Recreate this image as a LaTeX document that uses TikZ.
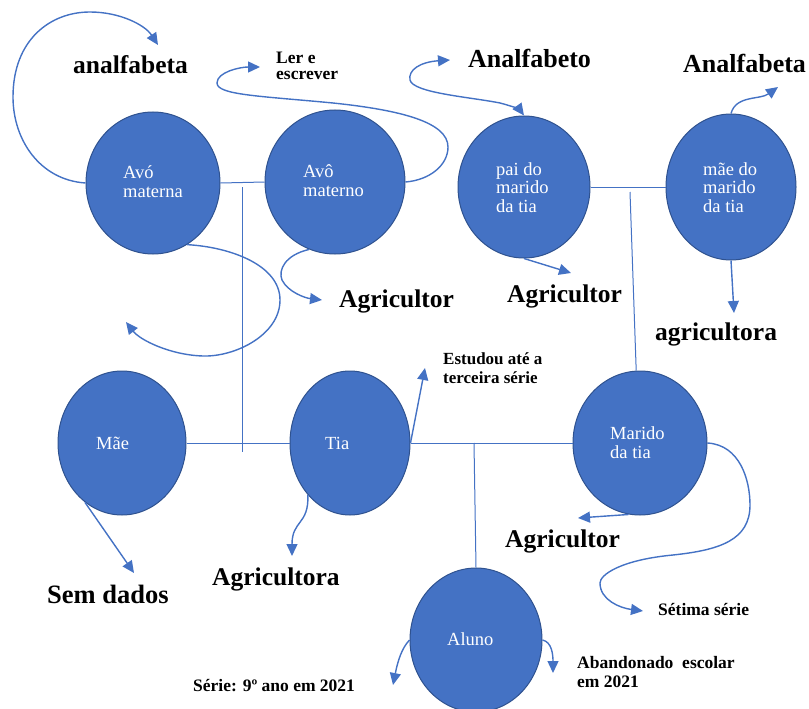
\documentclass[tikz,border=0pt]{standalone}
\usepackage{fontspec}
\setmainfont{Liberation Serif}
\newfontfamily\tnr{Liberation Serif}
\usetikzlibrary{shapes.geometric,arrows.meta}
\definecolor{cblue}{HTML}{4472C4}
\definecolor{cdark}{HTML}{2F528F}
\tikzset{
 person/.style={ellipse, fill=cblue, draw=cdark, line width=1pt, inner sep=0pt},
 ptext/.style={anchor=base west, inner sep=0pt, align=left, text=white, font=\tnr\fontsize{18.5}{18.3}\selectfont},
 big/.style={anchor=base west, inner sep=0pt, font=\tnr\fontsize{25.5}{30}\selectfont\bfseries},
 small/.style={anchor=base west, inner sep=0pt, align=left, font=\tnr\fontsize{17.5}{18.5}\selectfont\bfseries},
 tree/.style={draw=cblue, line width=1pt},
 arr/.style={draw=cblue, line width=1.4pt, -{Triangle[length=12pt,width=11pt]}},
 darr/.style={draw=cblue, line width=1.4pt, {Triangle[length=12pt,width=11pt]}-{Triangle[length=12pt,width=11pt]}},
}
\begin{document}
\begin{tikzpicture}[x=1pt,y=-1pt]
\useasboundingbox (0,0) rectangle (809,709);
% persons
\node[person, minimum width=134pt, minimum height=142pt] (am) at (153,183) {};
\node[person, minimum width=140pt, minimum height=144pt] (amo) at (335,182) {};
\node[person, minimum width=132pt, minimum height=142pt] (pai) at (524,187) {};
\node[person, minimum width=130pt, minimum height=146pt] (mae2) at (731,187) {};
\node[person, minimum width=128pt, minimum height=144pt] (mae) at (122,443) {};
\node[person, minimum width=120pt, minimum height=144pt] (tia) at (350,443) {};
\node[person, minimum width=134pt, minimum height=144pt] (mar) at (640,443) {};
\node[person, minimum width=132pt, minimum height=144pt] (alu) at (476,640) {};
% person texts (anchor = baseline of last line)
\node[ptext] (tam) at (123,197) {Avó\\materna};
\node[ptext] (tamo) at (303,196) {Avô\\materno};
\node[ptext] (tpai) at (496,212) {pai do\\marido\\da tia};
\node[ptext] (tmae2) at (703,212) {mãe do\\marido\\da tia};
\node[ptext] (tmae) at (96,449) {Mãe};
\node[ptext] (ttia) at (325,449) {Tia};
\node[ptext] (tmar) at (610,458) {Marido\\da tia};
\node[ptext] (talu) at (447,645) {Aluno};
% labels
\node[big] (l1) at (73,74) {analfabeta};
\node[small, font=\tnr\fontsize{17.5}{17}\selectfont\bfseries] (l2) at (276,80) {Ler e\\escrever};
\node[big, font=\tnr\fontsize{26}{30}\selectfont\bfseries] (l3) at (468,68) {Analfabeto};
\node[big, font=\tnr\fontsize{26}{30}\selectfont\bfseries] (l4) at (683,73) {Analfabeta};
\node[big] (l5) at (339,307) {Agricultor};
\node[big] (l6) at (507,302) {Agricultor};
\node[big] (l7) at (655,340) {agricultora};
\node[small, font=\tnr\fontsize{17}{19}\selectfont\bfseries] (l8) at (443,383) {Estudou até a\\terceira série};
\node[big] (l9) at (505,547) {Agricultor};
\node[big] (l10) at (212,585) {Agricultora};
\node[big, font=\tnr\fontsize{26.5}{30}\selectfont\bfseries] (l11) at (47,603) {Sem dados};
\node[small] (l12) at (658,615) {Sétima série};
\node[small, font=\tnr\fontsize{17.5}{19}\selectfont\bfseries] (l13) at (577,687) {Abandonado\ \ escolar\\em 2021};
\node[small] (l14) at (193,691) {Série: 9º ano em 2021};
% tree lines
\coordinate (v1a) at (242,187);
\coordinate (v1b) at (242,452);
\coordinate (v2a) at (474,443);
\coordinate (v3a) at (630,192);
\draw[tree] (am.east) -- (amo.west);
\draw[tree] (v1a) -- (v1b);
\draw[tree] (mae.east) -- (tia.west);
\draw[tree] (tia.east) -- (mar.west);
\draw[tree] (v2a) -- (alu.north);
\draw[tree] (pai.east) -- (mae2.west);
\draw[tree] (v3a) -- (mar.93);
% arrow tips
\coordinate (t1) at (158,45);
\coordinate (t2) at (260,67);
\coordinate (t3) at (450,60);
\coordinate (t4) at (778,87);
\coordinate (t5) at (126,322);
\coordinate (t6) at (322,300);
\coordinate (t7) at (571,273);
\coordinate (t8) at (734,313);
\coordinate (t9) at (425,368);
\coordinate (t10) at (134,573);
\coordinate (t11) at (292,556);
\coordinate (t12) at (578,518);
\coordinate (t13) at (643,611);
\coordinate (t14) at (393,685);
\coordinate (t15) at (553,673);
% arrows
\draw[arr] (am.west) .. controls (40,180) and (13,140) .. (13,97)
  .. controls (13,40) and (50,12) .. (90,12)
  .. controls (120,12) and (145,25) .. (t1);
\draw[arr] (amo.east) .. controls (430,180) and (448,165) .. (448,147)
  .. controls (448,122) and (400,110) .. (333,103)
  .. controls (260,96) and (217,95) .. (217,83)
  .. controls (217,72) and (240,67) .. (t2);
\draw[darr] (t3) .. controls (420,62) and (408,70) .. (410,80)
  .. controls (413,93) and (470,97) .. (500,103)
  .. controls (512,106) and (520,110) .. (pai.north);
\draw[arr] (mae2.north) .. controls (736,95) and (760,100) .. (t4);
\draw[arr] (am.-61) .. controls (230,247) and (280,265) .. (280,300)
  .. controls (280,335) and (235,357) .. (203,356)
  .. controls (170,355) and (140,340) .. (t5);
\draw[arr] (amo.-111) .. controls (285,255) and (278,270) .. (282,280)
  .. controls (288,292) and (305,298) .. (t6);
\draw[arr] (pai.south) -- (t7);
\draw[arr] (mae2.south) -- (t8);
\draw[arr] (tia.east) -- (t9);
\draw[arr] (mae.-122) -- (t10);
\draw[arr] (tia.-129) .. controls (309,525) and (292,520) .. (t11);
\draw[arr] (mar.-99) -- (t12);
\draw[arr] (mar.east) .. controls (740,445) and (750,480) .. (750,505)
  .. controls (750,540) and (720,550) .. (673,555)
  .. controls (620,560) and (600,575) .. (600,583)
  .. controls (600,600) and (620,608) .. (t13);
\draw[arr] (alu.west) .. controls (402,648) and (398,660) .. (t14);
\draw[arr] (alu.east) .. controls (552,642) and (553,655) .. (t15);
\end{tikzpicture}
\end{document}
